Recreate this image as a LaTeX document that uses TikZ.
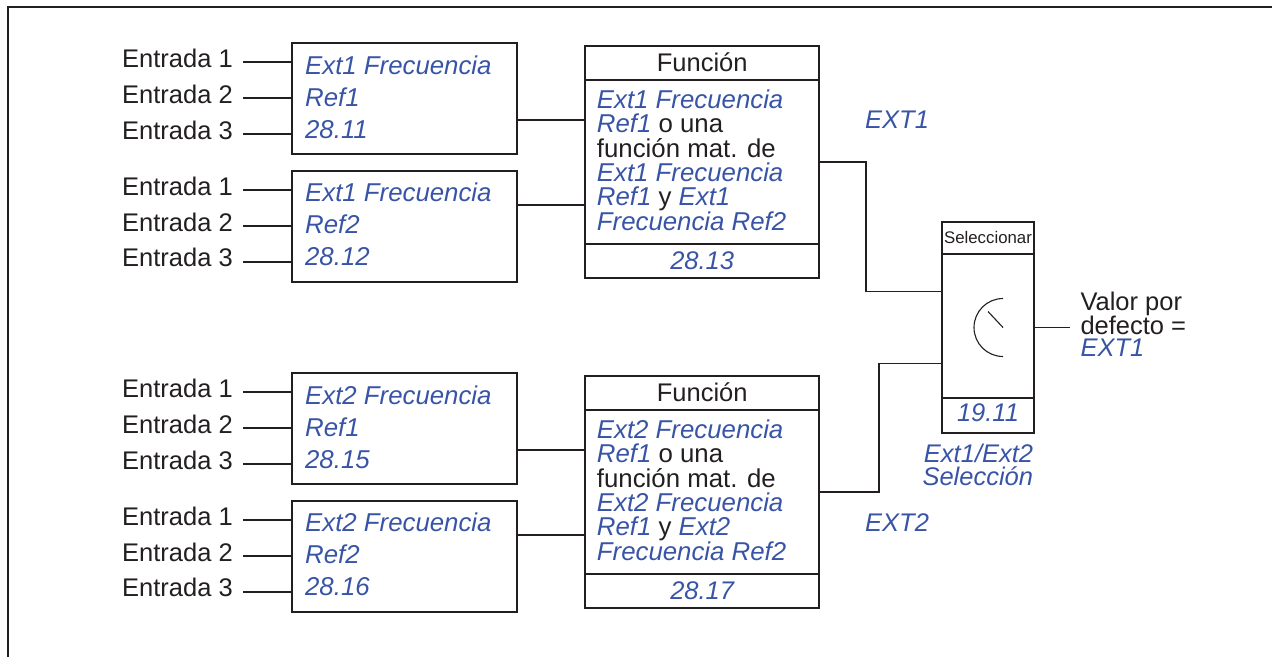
\documentclass[tikz,border=0pt]{standalone}
\usepackage{fontspec}
\setmainfont{Liberation Sans}
\usepackage{xcolor}
\usetikzlibrary{positioning}

\definecolor{ink}{RGB}{35,31,32}
\definecolor{blu}{RGB}{56,84,166}
\newcommand{\pval}[1]{{\color{blu}\itshape #1}}

\begin{document}
\begin{tikzpicture}[x=1pt, y=-1pt,
  blk/.style={draw=ink, line width=2pt, inner sep=0pt, outer sep=0pt},
  inbox/.style={blk, minimum width=224.7pt, minimum height=110.7pt},
  fnbox/.style={blk, minimum width=234.3pt, minimum height=232.6pt},
  selbox/.style={blk, minimum width=92.6pt, minimum height=210.4pt},
  sep/.style={draw=ink, line width=2pt},
  wire/.style={draw=ink, line width=1.8pt},
  dial/.style={draw=ink, line width=1.1pt},
  inlbl/.style={anchor=east, text=ink, font=\fontsize{25.5}{30}\selectfont, inner xsep=10pt, inner ysep=0pt, text height=10pt, text depth=0pt},
  intxt/.style={anchor=north west, text=blu, font=\fontsize{25.8}{32}\selectfont\itshape, align=left, inner sep=0pt},
  fntxt/.style={anchor=north west, text=ink, font=\fontsize{25.8}{24.4}\selectfont, align=left, inner sep=0pt},
  hdr/.style={anchor=base, text=ink, font=\fontsize{25.5}{30}\selectfont, inner sep=0pt},
  num/.style={anchor=base, text=blu, font=\fontsize{25.5}{30}\selectfont\itshape, inner sep=0pt},
]
\useasboundingbox (0,0) rectangle (1272,657);
\draw[ink, line width=2.5pt] (8,657) -- (8,7) -- (1272,7);

% input blocks
\node[inbox] (b1) at (404.3,98.7)  {};
\node[inbox] (b2) at (404.3,226.3) {};
\node[inbox] (b3) at (404.3,428.5) {};
\node[inbox] (b4) at (404.3,556.3) {};
\node[intxt] (t1) at ([shift={(13,12)}]b1.north west) {Ext1 Frecuencia\\Ref1\\28.11};
\node[intxt] (t2) at ([shift={(13,12)}]b2.north west) {Ext1 Frecuencia\\Ref2\\28.12};
\node[intxt] (t3) at ([shift={(13,12)}]b3.north west) {Ext2 Frecuencia\\Ref1\\28.15};
\node[intxt] (t4) at ([shift={(13,12)}]b4.north west) {Ext2 Frecuencia\\Ref2\\28.16};

% Entrada 1..3 into each block
\node[inlbl] (e11) at (243,62.3)  {Entrada 1};
\node[inlbl] (e12) at (243,98.3)  {Entrada 2};
\node[inlbl] (e13) at (243,134)   {Entrada 3};
\node[inlbl] (e21) at (243,190)   {Entrada 1};
\node[inlbl] (e22) at (243,226)   {Entrada 2};
\node[inlbl] (e23) at (243,261.7) {Entrada 3};
\node[inlbl] (e31) at (243,392.3) {Entrada 1};
\node[inlbl] (e32) at (243,428.3) {Entrada 2};
\node[inlbl] (e33) at (243,464)   {Entrada 3};
\node[inlbl] (e41) at (243,520)   {Entrada 1};
\node[inlbl] (e42) at (243,556)   {Entrada 2};
\node[inlbl] (e43) at (243,591.7) {Entrada 3};
\draw[wire] (e11) -- (e11 -| b1.west);
\draw[wire] (e12) -- (e12 -| b1.west);
\draw[wire] (e13) -- (e13 -| b1.west);
\draw[wire] (e21) -- (e21 -| b2.west);
\draw[wire] (e22) -- (e22 -| b2.west);
\draw[wire] (e23) -- (e23 -| b2.west);
\draw[wire] (e31) -- (e31 -| b3.west);
\draw[wire] (e32) -- (e32 -| b3.west);
\draw[wire] (e33) -- (e33 -| b3.west);
\draw[wire] (e41) -- (e41 -| b4.west);
\draw[wire] (e42) -- (e42 -| b4.west);
\draw[wire] (e43) -- (e43 -| b4.west);

% function blocks
\node[fnbox] (fn1) at (702.2,162) {};
\node[fnbox] (fn2) at (702.2,492) {};
\draw[sep] ([yshift=-34.3pt]fn1.north west) -- ([yshift=-34.3pt]fn1.north east);
\draw[sep] ([yshift=34.3pt]fn1.south west) -- ([yshift=34.3pt]fn1.south east);
\draw[sep] ([yshift=-34.3pt]fn2.north west) -- ([yshift=-34.3pt]fn2.north east);
\draw[sep] ([yshift=34.3pt]fn2.south west) -- ([yshift=34.3pt]fn2.south east);
\node[hdr] (h1) at ([yshift=-26pt]fn1.north) {Función};
\node[hdr] (h2) at ([yshift=-26pt]fn2.north) {Función};
\node[fntxt] (f1) at ([shift={(11.7,43.7)}]fn1.north west)
  {\pval{Ext1 Frecuencia}\\\pval{Ref1} o una\\función mat. de\\\pval{Ext1 Frecuencia}\\\pval{Ref1} y \pval{Ext1}\\\pval{Frecuencia Ref2}};
\node[fntxt] (f2) at ([shift={(11.7,43.7)}]fn2.north west)
  {\pval{Ext2 Frecuencia}\\\pval{Ref1} o una\\función mat. de\\\pval{Ext2 Frecuencia}\\\pval{Ref1} y \pval{Ext2}\\\pval{Frecuencia Ref2}};
\node[num] (n1) at ([yshift=9pt]fn1.south) {28.13};
\node[num] (n2) at ([yshift=9pt]fn2.south) {28.17};

\draw[wire] ([yshift=-21.3pt]b1.east) -- ([yshift=-21.3pt]b1.east -| fn1.west);
\draw[wire] ([yshift=21.3pt]b2.east)  -- ([yshift=21.3pt]b2.east -| fn1.west);
\draw[wire] ([yshift=-21.5pt]b3.east) -- ([yshift=-21.5pt]b3.east -| fn2.west);
\draw[wire] ([yshift=21.3pt]b4.east)  -- ([yshift=21.3pt]b4.east -| fn2.west);

% selector
\node[selbox] (sel) at (988,327.5) {};
\draw[sep] ([yshift=-31.7pt]sel.north west) -- ([yshift=-31.7pt]sel.north east);
\draw[sep] ([yshift=35pt]sel.south west) -- ([yshift=35pt]sel.south east);
\node[anchor=base, text=ink, font=\fontsize{16.8}{20}\selectfont, inner sep=0pt] (stit) at ([yshift=-21pt]sel.north) {Seleccionar};
\node[num] (n3) at ([yshift=11pt]sel.south) {19.11};
\draw[dial] ([shift={(15pt,29pt)}]sel.center) arc[start angle=90, end angle=270, radius=29pt];
\draw[dial] ([xshift=15pt]sel.center) -- ++(-15pt,16pt);
\node[num, align=right, font=\fontsize{25.5}{23}\selectfont\itshape, below left=11pt and 1pt of sel.south east] (snam) {Ext1/Ext2\\Selección};

\draw[wire] (fn1.east) -- ++(46.4,0) |- ([yshift=36pt]sel.west);
\draw[wire] (fn2.east) -- ++(60,0) |- ([yshift=-36pt]sel.west);
\node[num, anchor=base west] (x1) at (865,128)   {EXT1};
\node[num, anchor=base west] (x2) at (865,531.7) {EXT2};

% output
\node[text=ink, font=\fontsize{25.5}{21.5}\selectfont, align=left, inner xsep=10pt, inner ysep=0pt, right=36pt of sel.east, yshift=3.5pt] (dflt) {Valor por\\defecto =\\\pval{EXT1}};
\draw[wire] (sel.east) -- (sel.east -| dflt.west);
\end{tikzpicture}
\end{document}
